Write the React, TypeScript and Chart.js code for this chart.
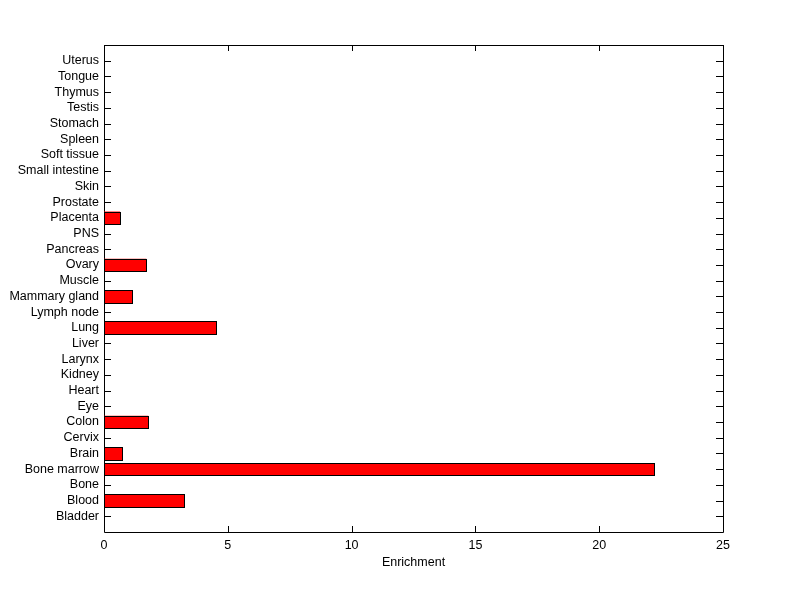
import React, { useEffect, useRef } from 'react';
import { Chart, registerables } from 'chart.js';
Chart.register(...registerables);

const categories = ['Bladder', 'Blood', 'Bone', 'Bone marrow', 'Brain', 'Cervix', 'Colon', 'Eye', 'Heart', 'Kidney', 'Larynx', 'Liver', 'Lung', 'Lymph node', 'Mammary gland', 'Muscle', 'Ovary', 'Pancreas', 'PNS', 'Placenta', 'Prostate', 'Skin', 'Small intestine', 'Soft tissue', 'Spleen', 'Stomach', 'Testis', 'Thymus', 'Tongue', 'Uterus'];
const enrichment = [0, 3.24, 0, 22.22, 0.71, 0, 1.79, 0, 0, 0, 0, 0, 4.51, 0, 1.14, 0, 1.71, 0, 0, 0.65, 0, 0, 0, 0, 0, 0, 0, 0, 0, 0];
const xTicks = [0, 5, 10, 15, 20, 25];
const xTitle = 'Enrichment';

const FONT = { family: 'Liberation Sans, Arial, sans-serif', size: 12.5 };

const boxPlugin = {
  id: 'boxTicks',
  beforeDatasetsDraw(chart: any) {
    const { ctx, chartArea: a } = chart;
    const xs = chart.scales.x;
    const ys = chart.scales.y;
    ctx.save();
    ctx.strokeStyle = '#000';
    ctx.lineWidth = 1;
    ctx.beginPath();
    ctx.rect(Math.round(a.left) + 0.5, Math.round(a.top) + 0.5, Math.round(a.right - a.left), Math.round(a.bottom - a.top));
    ctx.stroke();
    ctx.beginPath();
    xTicks.forEach((v) => {
      const px = Math.round(xs.getPixelForValue(v)) + 0.5;
      ctx.moveTo(px, a.bottom);
      ctx.lineTo(px, a.bottom - 6);
      ctx.moveTo(px, a.top);
      ctx.lineTo(px, a.top + 6);
    });
    categories.forEach((c, i) => {
      const py = Math.round(ys.getPixelForValue(i + 1)) + 0.5;
      ctx.moveTo(a.left, py);
      ctx.lineTo(a.left + 7, py);
      ctx.moveTo(a.right, py);
      ctx.lineTo(a.right - 7, py);
    });
    ctx.stroke();
    ctx.restore();
  },
  afterDatasetsDraw(chart: any) {
    const { ctx } = chart;
    const meta = chart.getDatasetMeta(0);
    ctx.save();
    meta.data.forEach((el: any, i: number) => {
      const v = chart.data.datasets[0].data[i];
      if (v === null || v === undefined || v === 0) return;
      const l = Math.round(Math.min(el.base, el.x));
      const r = Math.round(Math.max(el.base, el.x));
      const t = Math.round(el.y - el.height / 2);
      const b = Math.round(el.y + el.height / 2);
      ctx.fillStyle = '#ff0000';
      ctx.fillRect(l, t, r - l, b - t);
      ctx.strokeStyle = '#000';
      ctx.lineWidth = 1;
      ctx.strokeRect(l + 0.5, t + 0.5, r - l, b - t);
    });
    ctx.restore();
  },
};

export default function App() {
  const ref = useRef<HTMLCanvasElement>(null);
  useEffect(() => {
    document.body.style.margin = '0';
    const labels = ['', ...categories, ''];
    const data = [null, ...enrichment, null];
    const chart = new Chart(ref.current!, {
      type: 'bar',
      data: {
        labels,
        datasets: [{
          data: data as any,
          backgroundColor: '#ff0000',
          borderColor: '#000000',
          borderWidth: 0,
          borderSkipped: false,
          barPercentage: 0.8,
          categoryPercentage: 1,
        }],
      },
      options: {
        indexAxis: 'y',
        animation: false,
        responsive: false,
        events: [],
        layout: { padding: { left: 0, top: 45, right: 77, bottom: 0 } },
        plugins: { legend: { display: false }, tooltip: { enabled: false } },
        scales: {
          x: {
            type: 'linear',
            min: 0,
            max: 25,
            afterBuildTicks: (s: any) => { s.ticks = xTicks.map((v) => ({ value: v })); },
            afterFit: (s: any) => { s.height = 67; },
            grid: { display: false, drawTicks: false },
            border: { display: false },
            ticks: { color: '#000', font: FONT, padding: 6, maxRotation: 0 },
            title: { display: true, text: xTitle, color: '#000', font: FONT, padding: { top: 0, bottom: 29 } },
          },
          y: {
            type: 'category',
            reverse: true,
            offset: false,
            afterFit: (s: any) => { s.width = 104; },
            grid: { display: false, drawTicks: false },
            border: { display: false },
            ticks: { color: '#000', font: FONT, padding: 5, autoSkip: false },
          },
        },
      },
      plugins: [boxPlugin],
    });
    return () => chart.destroy();
  }, []);
  return <canvas ref={ref} width={800} height={599} style={{ display: 'block' }} />;
}
